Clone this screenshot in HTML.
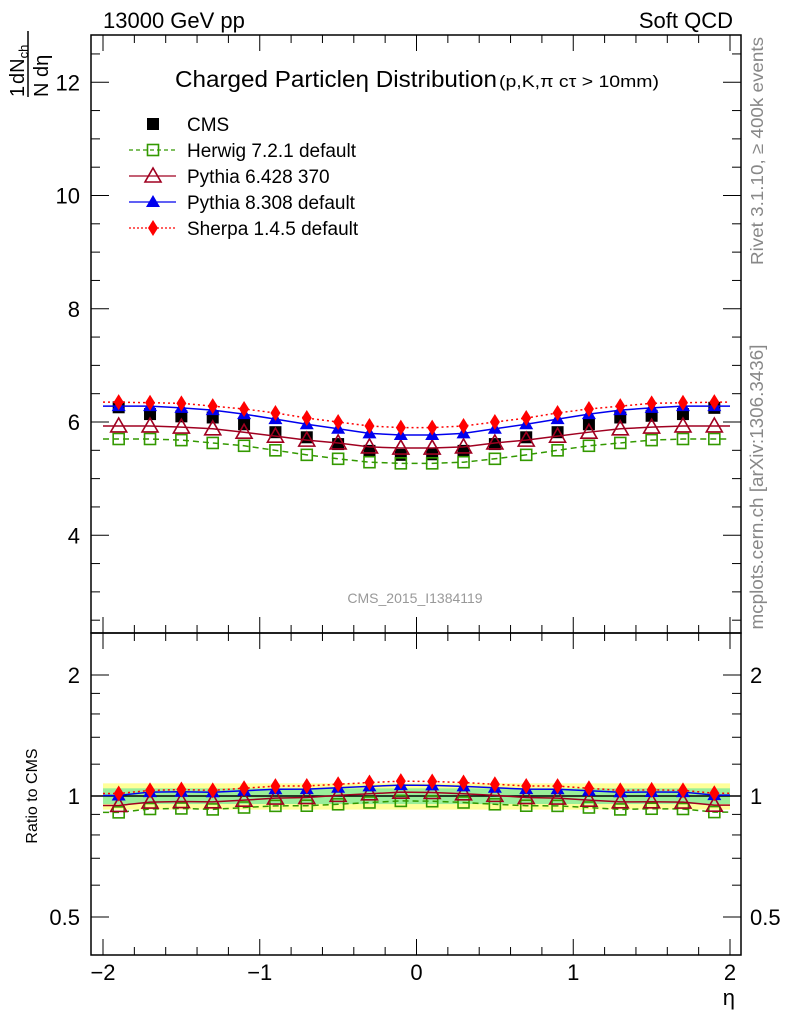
<!DOCTYPE html>
<html><head><meta charset="utf-8"><style>
body{margin:0;background:#fff;width:786px;height:1024px;overflow:hidden}
svg{font-family:"Liberation Sans",sans-serif}
</style></head><body>
<svg id="c" width="786" height="1024" viewBox="0 0 786 1024" xmlns="http://www.w3.org/2000/svg"></svg>
<script>
const etaBins=[-1.9,-1.7,-1.5,-1.3,-1.1,-0.9,-0.7,-0.5,-0.3,-0.1,0.1,0.3,0.5,0.7,0.9,1.1,1.3,1.5,1.7,1.9];
const cms=[6.26,6.14,6.10,6.08,5.96,5.82,5.73,5.61,5.49,5.42,5.43,5.49,5.61,5.73,5.82,5.96,6.08,6.11,6.14,6.25];
const herwig=[5.70,5.70,5.68,5.63,5.58,5.50,5.42,5.35,5.29,5.27,5.27,5.29,5.35,5.42,5.50,5.58,5.63,5.68,5.70,5.70];
const pythia6=[5.93,5.93,5.91,5.88,5.82,5.75,5.68,5.63,5.56,5.54,5.54,5.56,5.63,5.68,5.75,5.82,5.88,5.91,5.93,5.93];
const pythia8=[6.28,6.28,6.25,6.21,6.14,6.05,5.96,5.88,5.80,5.77,5.77,5.80,5.88,5.96,6.05,6.14,6.21,6.25,6.28,6.28];
const sherpa=[6.35,6.34,6.33,6.28,6.23,6.16,6.07,6.00,5.93,5.90,5.90,5.93,6.00,6.07,6.16,6.23,6.28,6.33,6.34,6.35];
const yTicks=[4,6,8,10,12];
const rTicks=[0.5,1,2];
const xTicks=[-2,-1,0,1,2];
const bandYellow=0.075, bandGreen=0.045;

const svg=document.getElementById('c');
const NS='http://www.w3.org/2000/svg';
function el(t,a,p){const e=document.createElementNS(NS,t);for(const k in a)e.setAttribute(k,a[k]);(p||svg).appendChild(e);return e;}
const X=v=>103+(v+2)*156.75;
const Y=v=>422-(v-6)*56.625;
const R=v=>796-Math.log2(v)*121;
const L=91,Rt=741,T=35,M=633,B=955;

const gb=el('g',{});


el('rect',{x:X(-2),y:R(1+bandYellow),width:X(2)-X(-2),height:R(1-bandYellow)-R(1+bandYellow),fill:'#ffff99'},gb);
el('rect',{x:X(-2),y:R(1+bandGreen),width:X(2)-X(-2),height:R(1-bandGreen)-R(1+bandGreen),fill:'#99ee99'},gb);

for(const [y0,y1,n] of [[T,M,'main-frame'],[M,B,'ratio-frame']]){
  const r=el('rect',{x:L,y:y0,width:Rt-L,height:y1-y0,fill:'none',stroke:'#000','stroke-width':1.5});
  
}
for(let v=-2;v<=2.001;v+=0.2){
  const x=X(v),maj=Math.abs(v-Math.round(v))<1e-6,len=maj?16:8;
  for(const [y0,d] of [[T,1],[M,-1],[M,1],[B,-1]]) el('line',{x1:x,x2:x,y1:y0,y2:y0+d*len,stroke:'#000'});
}
xTicks.forEach(v=>{const t=el('text',{x:X(v),y:980,'font-size':22,'text-anchor':'middle'});t.textContent=(v<0?'\u2212'+(-v):v);
 });
for(let v=2.5;v<=12.9;v+=0.5){const y=Y(v);if(y<T||y>M)continue;const maj=Math.abs(v%2)<1e-6,len=maj?18:9;
 el('line',{x1:L,x2:L+len,y1:y,y2:y,stroke:'#000'});el('line',{x1:Rt,x2:Rt-len,y1:y,y2:y,stroke:'#000'});}
yTicks.forEach(v=>{const t=el('text',{x:80,y:Y(v)+8,'font-size':22,'text-anchor':'end'});t.textContent=v;
 });
[0.5,0.6,0.7,0.8,0.9,1,1.2,1.4,1.6,1.8,2].forEach(v=>{const y=R(v);const maj=rTicks.includes(v),len=maj?18:9;
 el('line',{x1:L,x2:L+len,y1:y,y2:y,stroke:'#000'});el('line',{x1:Rt,x2:Rt-len,y1:y,y2:y,stroke:'#000'});});
rTicks.forEach(v=>{for(const [x,a] of [[80,'end'],[750,'start']]){const t=el('text',{x:x,y:R(v)+8,'font-size':22,'text-anchor':a});t.textContent=v;
 }});
el('line',{x1:L,x2:Rt,y1:R(1),y2:R(1),stroke:'#000','stroke-width':1.5});

function marker(type,x,y,col,g){
  if(type==='sq') el('rect',{x:x-6,y:y-6,width:12,height:12,fill:'#000'},g);
  if(type==='osq') el('rect',{x:x-5.5,y:y-5.5,width:11,height:11,fill:'none',stroke:col,'stroke-width':1.6},g);
  if(type==='otri') el('polygon',{points:`${x},${y-8} ${x-8},${y+6} ${x+8},${y+6}`,fill:'none',stroke:col,'stroke-width':1.6},g);
  if(type==='tri') el('polygon',{points:`${x},${y-7} ${x-7},${y+5} ${x+7},${y+5}`,fill:col},g);
  if(type==='dia') el('polygon',{points:`${x},${y-8} ${x-5},${y} ${x},${y+8} ${x+5},${y}`,fill:col},g);
}
const series=[
 {n:'herwig',d:herwig,c:'#339900',m:'osq',dash:'6,4'},
 {n:'pythia6',d:pythia6,c:'#a00020',m:'otri',dash:''},
 {n:'pythia8',d:pythia8,c:'#0000ee',m:'tri',dash:''},
 {n:'sherpa',d:sherpa,c:'#ff0000',m:'dia',dash:'2,3'}];
const gc=el('g',{});
etaBins.forEach((e,i)=>marker('sq',X(e),Y(cms[i]),'#000',gc));
series.forEach(s=>{
  for(const [fy,vals,suffix] of [[Y,s.d,'main'],[R,s.d.map((v,i)=>v/cms[i]),'ratio']]){
    const g=el('g',{});
    
    
    const pts=[[X(-2),fy(vals[0])]].concat(etaBins.map((e,i)=>[X(e),fy(vals[i])])).concat([[X(2),fy(vals[vals.length-1])]]);
    const a={points:pts.map(p=>p.join(',')).join(' '),fill:'none',stroke:s.c,'stroke-width':1.5};
    if(s.dash)a['stroke-dasharray']=s.dash;
    el('polyline',a,g);
    etaBins.forEach((e,i)=>marker(s.m,X(e),fy(vals[i]),s.c,g));
  }
});
const lg=el('g',{});
const leg=[['CMS','sq','#000',''],['Herwig 7.2.1 default','osq','#339900','4,3'],['Pythia 6.428 370','otri','#a00020',''],['Pythia 8.308 default','tri','#0000ee',''],['Sherpa 1.4.5 default','dia','#ff0000','2,2']];
leg.forEach((l,i)=>{const y=124+i*26;
  if(i>0){const a={x1:129,x2:176,y1:y,y2:y,stroke:l[2],'stroke-width':1.3};if(l[3])a['stroke-dasharray']=l[3];el('line',a,lg);}
  marker(l[1],153,y,l[2],lg);
  const t=el('text',{x:187,y:y+7,'font-size':19},lg);t.textContent=l[0];
  });
function txt(s,a,n){const t=el('text',a);t.textContent=s;return t;}
txt('13000 GeV pp',{x:103,y:28,'font-size':22},'energy-label');
txt('Soft QCD',{x:733,y:28,'font-size':22,'text-anchor':'end'},'process-label');
txt('Charged Particle\u03b7 Distribution',{x:175,y:87,'font-size':23,textLength:322,lengthAdjust:'spacingAndGlyphs'},'plot-title');
txt('(p,K,\u03c0 c\u03c4 > 10mm)',{x:499,y:87,'font-size':17,textLength:160,lengthAdjust:'spacingAndGlyphs'},'plot-title-cut');
txt('CMS_2015_I1384119',{x:415,y:603,'font-size':14,fill:'#999','text-anchor':'middle'},'analysis-id');
txt('\u03b7',{x:735,y:1005,'font-size':22,'text-anchor':'end'},'x-axis-title');
txt('Ratio to CMS',{x:0,y:0,'font-size':16,'text-anchor':'middle',transform:'translate(37,796) rotate(-90)'},'ratio-axis-title');
txt('Rivet 3.1.10, \u2265 400k events',{x:0,y:0,'font-size':17.5,fill:'#888','text-anchor':'middle',textLength:228,lengthAdjust:'spacingAndGlyphs',transform:'translate(763,151) rotate(-90)'},'rivet-label');
txt('mcplots.cern.ch [arXiv:1306.3436]',{x:0,y:0,'font-size':18,fill:'#888','text-anchor':'middle',textLength:285,lengthAdjust:'spacingAndGlyphs',transform:'translate(763,487) rotate(-90)'},'mcplots-label');
const yt=el('g',{transform:'translate(28,64) rotate(-90)'});
el('line',{x1:-33,x2:33,y1:0,y2:0,stroke:'#000','stroke-width':1.5},yt);
const t1=el('text',{x:-33,y:-4,'font-size':20},yt);t1.textContent='1';
const t2=el('text',{x:-20,y:-4,'font-size':20},yt);t2.innerHTML='dN<tspan font-size="13" dy="4">ch</tspan>';
const t3=el('text',{x:-33,y:20,'font-size':20},yt);t3.textContent='N d\u03b7';
</script>
</body></html>
